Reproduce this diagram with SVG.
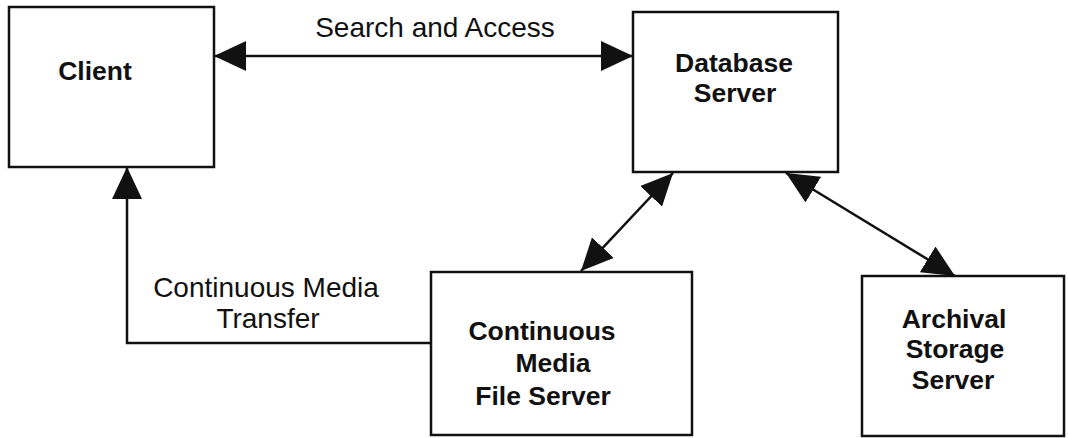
<svg xmlns="http://www.w3.org/2000/svg" width="1068" height="438" viewBox="0 0 1068 438">
  <style>
    .box { fill: #ffffff; stroke: #111111; stroke-width: 2.5; }
    .node { font-family: "Liberation Sans", Arial, sans-serif; font-weight: bold; font-size: 26.5px; fill: #111111; text-anchor: middle; }
    .lbl { font-family: "Liberation Sans", Arial, sans-serif; font-size: 28px; fill: #111111; text-anchor: middle; }
    .conn { fill: none; stroke: #111111; stroke-width: 2.5; }
  </style>
  <defs>
    <marker id="arrow" viewBox="0 0 32 30" refX="32" refY="15" markerWidth="32" markerHeight="30" markerUnits="userSpaceOnUse" orient="auto-start-reverse">
      <path d="M0,0 L32,15 L0,30 Z" fill="#111111"/>
    </marker>
  </defs>
  <rect width="1068" height="438" fill="#ffffff"/>

  <g id="client">
    <rect class="box" x="9" y="7" width="205" height="160"/>
    <text class="node" x="95" y="80">Client</text>
  </g>

  <g id="database-server">
    <rect class="box" x="633" y="12" width="205" height="160"/>
    <text class="node" x="734" y="72">Database</text>
    <text class="node" x="735" y="102">Server</text>
  </g>

  <g id="cm-file-server">
    <rect class="box" x="431" y="272" width="261" height="163"/>
    <text class="node" x="542" y="340">Continuous</text>
    <text class="node" x="553" y="372">Media</text>
    <text class="node" x="543" y="405">File Server</text>
  </g>

  <g id="archival-storage-server">
    <rect class="box" x="862" y="276" width="202" height="160"/>
    <text class="node" x="954" y="328">Archival</text>
    <text class="node" x="955" y="358">Storage</text>
    <text class="node" x="953" y="389">Server</text>
  </g>

  <g id="connectors">
    <line class="conn" x1="214" y1="56" x2="633" y2="56" marker-start="url(#arrow)" marker-end="url(#arrow)"/>
    <polyline class="conn" points="431,343 127,343 127,167" marker-end="url(#arrow)"/>
    <line class="conn" x1="673" y1="173" x2="581" y2="271" marker-start="url(#arrow)" marker-end="url(#arrow)"/>
    <line class="conn" x1="786" y1="173" x2="955" y2="276" marker-start="url(#arrow)" marker-end="url(#arrow)"/>
    <text class="lbl" x="435" y="37">Search and Access</text>
    <text class="lbl" x="266" y="297">Continuous Media</text>
    <text class="lbl" x="268" y="328">Transfer</text>
  </g>
</svg>
